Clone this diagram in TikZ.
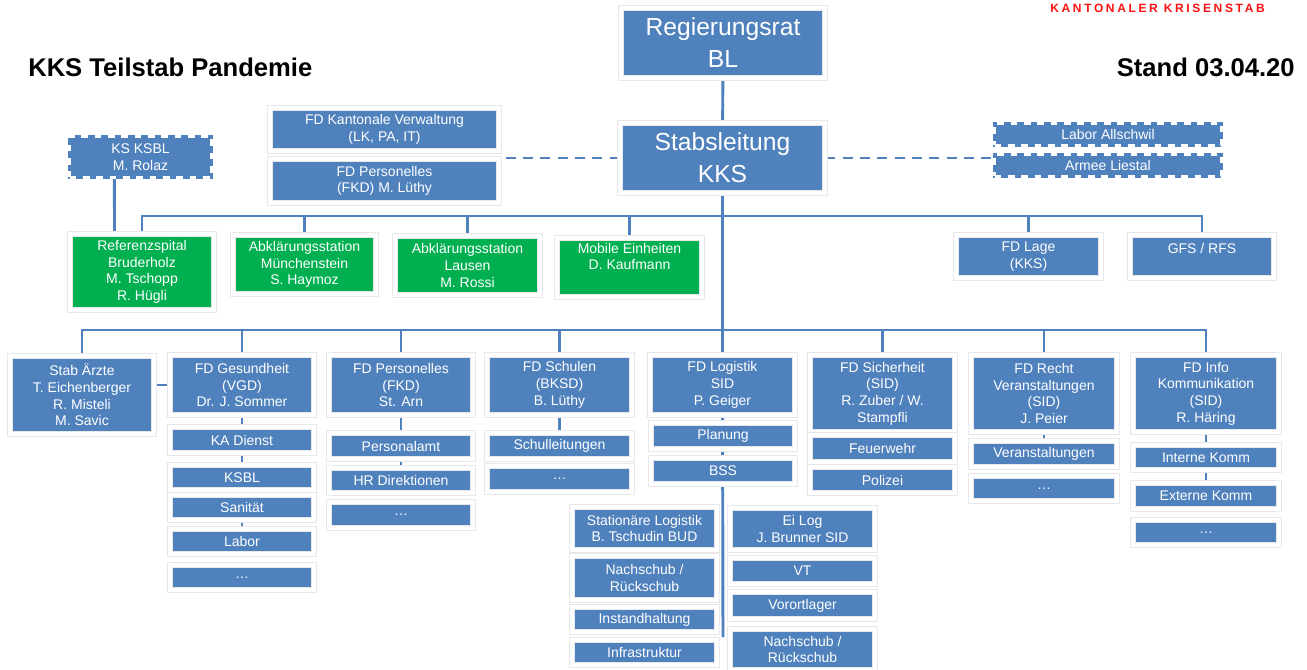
\documentclass[tikz,border=0pt]{standalone}
\usepackage{fontspec}
\setmainfont{Liberation Sans}
\newfontfamily\spacedf[LetterSpace=22]{Liberation Sans}
\usetikzlibrary{backgrounds,calc}
\definecolor{kblue}{HTML}{4F81BD}
\definecolor{kgreen}{HTML}{00B050}
\definecolor{kred}{HTML}{FF1010}
\newcommand\boxf{\fontsize{10.5}{12.5}\selectfont}
\newcommand\bigf{\fontsize{18.5}{24}\selectfont}
\tikzset{
  kb/.style={fill=kblue, draw=black!9, line width=0.5pt, double=white, double distance=3pt,
    text=white, align=center, inner sep=1pt, font=\boxf},
  kg/.style={fill=kgreen},
  kd/.style={fill=kblue, draw=white, line width=2.2pt, dash pattern=on 5pt off 5pt,
    preaction={draw=kblue, solid, line width=2.2pt},
    text=white, align=center, inner sep=1pt, font=\boxf},
  conn/.style={draw=kblue, line width=2.2pt},
  dconn/.style={draw=kblue, line width=2.2pt, dash pattern=on 7.5pt off 5.5pt},
}
\newcommand\kbox[7][]{\node[kb,minimum width={(#5-#3+4)*0.75pt},minimum height={(#6-#4+4)*0.75pt},#1] (#2) at ({(#3+#5)/2},{(#4+#6)/2}) {#7};}
\newcommand\kdbox[6]{\node[kd,minimum width={(#4-#2-3)*0.75pt},minimum height={(#5-#3-3)*0.75pt}] (#1) at ({(#2+#4)/2},{(#3+#5)/2}) {#6};}
\begin{document}
\begin{tikzpicture}[x=0.75pt,y=-0.75pt]
\useasboundingbox (0,0) rectangle (1307,670);
% titles
\node[anchor=base west, inner sep=0, font=\fontsize{19.2}{22}\selectfont\bfseries] (title) at (28,77) {KKS Teilstab Pandemie};
\node[anchor=base east, inner sep=0, font=\fontsize{19.2}{22}\selectfont\bfseries] (stand) at (1295,77) {Stand 03.04.20};
\node[anchor=base east, inner sep=0, text=kred, font=\spacedf\bfseries\fontsize{9}{10}\selectfont] (kk) at (1265,13) {KANTONALER KRISENSTAB};
% top
\kbox[font=\bigf]{reg}{623}{10}{823}{76}{Regierungsrat\\BL}
\kbox[font=\bigf]{stab}{622}{125}{823}{191}{Stabsleitung\\KKS}
\kbox{kv}{272}{110}{497}{149}{FD Kantonale Verwaltung\\(LK, PA, IT)}
\kbox{pers0}{272}{161}{497}{201}{FD Personelles\\(FKD) M. Lüthy}
\kdbox{ksbl}{68}{135}{213}{179}{KS KSBL\\M. Rolaz}
\kdbox{labor0}{993}{122}{1223}{147}{Labor Allschwil}
\kdbox{armee}{993}{153}{1223}{178}{Armee Liestal}
% second row
\kbox[kg]{ref}{72}{236}{212}{308}{Referenzspital\\Bruderholz\\M. Tschopp\\R. Hügli}
\kbox[kg]{mue}{235}{237}{374}{292}{Abklärungsstation\\Münchenstein\\S. Haymoz}
\kbox[kg]{lau}{397}{238}{538}{293}{Abklärungsstation\\Lausen\\M. Rossi}
\kbox[kg]{mob}{559}{240}{700}{295}{Mobile Einheiten\\D. Kaufmann\\[4pt]}
\kbox{lage}{958}{237}{1099}{276}{FD Lage\\(KKS)}
\kbox{gfs}{1132}{237}{1272}{276}{GFS / RFS\\\mbox{}}
% third row
\kbox{aerzte}{12}{358}{152}{432}{Stab Ärzte\\T. Eichenberger\\R. Misteli\\M. Savic}
\kbox{ges}{172}{357}{312}{413}{FD Gesundheit\\(VGD)\\Dr. J. Sommer}
\kbox{kad}{172}{429}{312}{451}{KA Dienst}
\kbox{ksbl2}{172}{467}{312}{488}{KSBL}
\kbox{san}{172}{497}{312}{518}{Sanität}
\kbox{lab}{172}{531}{312}{552}{Labor}
\kbox{gesd}{172}{567}{312}{588}{…}
\kbox{fkd}{331}{357}{471}{413}{FD Personelles\\(FKD)\\St. Arn}
\kbox{pamt}{331}{435}{471}{457}{Personalamt}
\kbox{hr}{331}{470}{471}{491}{HR Direktionen}
\kbox{fkdd}{331}{504}{471}{526}{…}
\kbox{sch}{489}{357}{630}{413}{FD Schulen\\(BKSD)\\B. Lüthy}
\kbox{sl}{489}{435}{630}{457}{Schulleitungen}
\kbox{schd}{489}{468}{630}{490}{…}
\kbox{log}{652}{357}{793}{413}{FD Logistik\\SID\\P. Geiger}
\kbox{plan}{653}{425}{793}{447}{Planung}
\kbox{bss}{653}{460}{793}{482}{BSS}
\kbox{stl}{574}{509}{715}{548}{Stationäre Logistik\\B. Tschudin BUD}
\kbox{nr1}{574}{558}{715}{598}{Nachschub /\\Rückschub}
\kbox{ih}{574}{609}{715}{630}{Instandhaltung}
\kbox{inf}{574}{642}{715}{663}{Infrastruktur}
\kbox{eil}{732}{510}{873}{548}{Ei Log\\J. Brunner SID}
\kbox{vt}{732}{560}{873}{582}{VT}
\kbox{vol}{732}{594}{873}{617}{Vorortlager}
\kbox{nr2}{732}{631}{873}{668}{Nachschub /\\Rückschub}
\kbox{sich}{812}{357}{953}{430}{FD Sicherheit\\(SID)\\R. Zuber / W.\\Stampfli}
\kbox{feu}{812}{437}{953}{460}{Feuerwehr}
\kbox{pol}{812}{469}{953}{491}{Polizei}
\kbox{recht}{973}{357}{1115}{430}{FD Recht\\Veranstaltungen\\(SID)\\J. Peier}
\kbox{ver}{973}{443}{1115}{465}{Veranstaltungen}
\kbox{rechtd}{973}{478}{1115}{499}{…}
\kbox{info}{1135}{357}{1277}{430}{FD Info\\Kommunikation\\(SID)\\R. Häring}
\kbox{ik}{1135}{447}{1277}{468}{Interne Komm}
\kbox{ek}{1135}{485}{1277}{507}{Externe Komm}
\kbox{infod}{1135}{522}{1277}{543}{…}
% connectors
\coordinate (bus1) at (0,216);
\coordinate (bus2) at (0,330);
\coordinate (logend) at (723,637);
\begin{scope}[on background layer]
\draw[conn] (reg) -- (stab);
\draw[conn] (stab) -- (log);
\draw[dconn] (stab.west) -- (stab.west -| kv.east);
\draw[dconn] (stab.east) -- (stab.east -| armee.west);
\draw[conn] ($(ksbl.south west)!0.32!(ksbl.south east)$) -- ($(ref.north west)!0.31!(ref.north east)$);
\draw[conn] (ref.north) -- (ref.north |- bus1) -- (gfs.north |- bus1) -- (gfs.north);
\foreach \n in {mue,lau,mob,lage} \draw[conn] (\n.north) -- (\n.north |- bus1);
\draw[conn] (aerzte.north) -- (aerzte.north |- bus2) -- (info.north |- bus2) -- (info.north);
\foreach \n in {ges,fkd,sch,sich,recht} \draw[conn] (\n.north) -- (\n.north |- bus2);
\draw[conn] (ges.west) -- (ges.west -| aerzte.east);
\draw[conn] (ges) -- (lab);
\draw[conn] (fkd) -- (hr);
\draw[conn] (sch) -- (sl);
\draw[conn] (log) -- (logend);
\draw[conn] (sich) -- (pol);
\draw[conn] (recht) -- (ver);
\draw[conn] (info) -- (ek);
\end{scope}
\end{tikzpicture}
\end{document}
